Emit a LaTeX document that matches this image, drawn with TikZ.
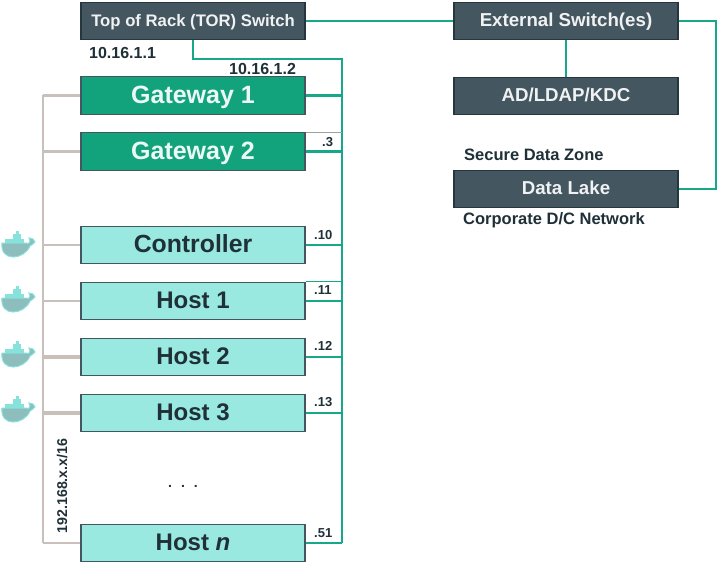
\documentclass[tikz,border=0pt]{standalone}
\usepackage{fontspec}
\setmainfont{Liberation Sans}
\definecolor{darkbox}{HTML}{44565F}
\definecolor{gatebox}{HTML}{12A27C}
\definecolor{hostbox}{HTML}{9AE9E1}
\definecolor{inktext}{HTML}{1F3038}
\definecolor{tealline}{HTML}{17A789}
\definecolor{grayline}{HTML}{C9C0BC}
\definecolor{whalehull}{HTML}{8DBDBD}
\definecolor{whaletop}{HTML}{86E2DA}
\tikzset{
  x=1pt,y=-1pt,
  basebox/.style={draw=#1,line width=1.3pt,minimum width=224pt,minimum height=37.5pt,inner sep=0pt,anchor=center},
  darknode/.style={basebox=inktext!85!darkbox,fill=darkbox,text=white!92!darkbox,text height=13.4pt,text depth=2pt,font=\bfseries\fontsize{18.7}{20}\selectfont},
  gatenode/.style={basebox=darkbox,fill=gatebox,text=white!92!gatebox,text height=17.9pt,text depth=2pt,font=\bfseries\fontsize{25}{27}\selectfont},
  hostnode/.style={basebox=darkbox,fill=hostbox,text=inktext,text height=17.2pt,text depth=3pt,font=\bfseries\fontsize{24}{26}\selectfont},
  tealconn/.style={draw=tealline,line width=2.2pt},
  grayconn/.style={draw=grayline,line width=2.4pt},
  graythick/.style={draw=grayline,line width=3.6pt},
  iplabel/.style={text=inktext,inner sep=0pt,font=\bfseries\fontsize{16}{18}\selectfont},
  notelabel/.style={text=inktext,inner sep=0pt,font=\bfseries\fontsize{16.5}{18}\selectfont},
  dotlabel/.style={text=inktext,inner sep=0pt,font=\bfseries\fontsize{13}{15}\selectfont},
  whale/.pic={
    \fill[whaletop] (5,-6) rectangle (24,-1);
    \fill[whaletop] (13,-11) rectangle (21,-6);
    \fill[whaletop] (16,-14) rectangle (19,-11);
    \fill[whalehull,draw=whaletop,line width=1pt] (2,-2) -- (26,-2) .. controls (28,-1) and (29,-1) .. (30,-4)
      -- (29,-7) -- (33,-6) -- (35,-3) .. controls (33,-1) and (32,0) .. (30,1)
      .. controls (27,8) and (20,12) .. (13,12) .. controls (6,12) and (1,7) .. (2,-2) -- cycle;
  }
}
\begin{document}
\begin{tikzpicture}
\useasboundingbox (0,0) rectangle (719,570);
\fill[white] (0,0) rectangle (719,570);

\coordinate (rtop) at (342,59);
\coordinate (rbot) at (342,543);
\coordinate (ltop) at (43,95);
\coordinate (lbot) at (43,543);
\coordinate (rfar) at (716,21);

\node[darknode,text height=12pt,font=\bfseries\fontsize{16.7}{18}\selectfont] (tor) at (193,21) {Top of Rack (TOR) Switch};
\node[darknode] (ext) at (566,21) {External Switch(es)};
\node[darknode] (ad) at (566,96) {AD/LDAP/KDC};
\node[darknode] (lake) at (566,189) {Data Lake};
\node[gatenode] (gw1) at (193,95.5) {Gateway 1};
\node[gatenode] (gw2) at (193,151.5) {Gateway 2};
\node[hostnode,text height=17.8pt,text depth=2pt,font=\bfseries\fontsize{24.8}{26}\selectfont] (ctl) at (193,245) {Controller};
\node[hostnode] (h1) at (193,301) {Host 1};
\node[hostnode] (h2) at (193,357) {Host 2};
\node[hostnode] (h3) at (193,413) {Host 3};
\node[hostnode,text depth=2pt] (hn) at (193,543) {Host \textit{n}};

\draw[tealconn] (tor.east) -- (ext.west);
\draw[tealconn] (ext.south) -- (ad.north);
\draw[tealconn] (ext.east) -| (rfar) |- (lake.east);
\draw[tealconn] (tor.south) |- (rtop) -- (rbot);
\foreach \n in {gw1,gw2,ctl,h1,h2,h3,hn}{
  \draw[tealconn] (\n.east) -- (\n.east -| rtop);
}
\draw[draw=grayline!70!darkbox,line width=.8pt] (gw2.north east) -- (gw2.north east -| rtop);
\draw[draw=tealline,line width=.8pt] (h1.north east) -- (h1.north east -| rtop);

\draw[grayconn] (ltop) -- (lbot);
\draw[graythick] (gw1.west) -- (gw1.west -| ltop);
\draw[graythick] (gw2.west) -- (gw2.west -| ltop);
\draw[grayconn] (ctl.west) -- (ctl.west -| ltop);
\draw[grayconn] (h1.west) -- (h1.west -| ltop);
\draw[graythick] (h2.west) -- (h2.west -| ltop);
\draw[graythick] (h3.west) -- (h3.west -| ltop);
\draw[grayconn] (hn.west) -- (hn.west -| ltop);

\node[iplabel,anchor=west] (ipa) at (89,53) {10.16.1.1};
\node[iplabel,anchor=west] (ipb) at (229,69) {10.16.1.2};
\node[notelabel,anchor=west] (szone) at (464,155) {Secure Data Zone};
\node[notelabel,anchor=west] (cnet) at (463,220.5) {Corporate D/C Network};
\node[dotlabel,anchor=west] (d3) at (322,142) {.3};
\node[dotlabel,anchor=west] (d10) at (314,235) {.10};
\node[dotlabel,anchor=west] (d11) at (314,290) {.11};
\node[dotlabel,anchor=west] (d12) at (314,346) {.12};
\node[dotlabel,anchor=west] (d13) at (314,402) {.13};
\node[dotlabel,anchor=west] (d51) at (314,533) {.51};
\node[dotlabel,rotate=90,font=\bfseries\fontsize{14.2}{16}\selectfont] (subnet) at (62,486) {192.168.x.x/16};
\node[dotlabel,font=\bfseries\fontsize{14}{16}\selectfont] (dots) at (183,486) {.\hspace{9pt}.\hspace{9pt}.};

\pic at (0,245) {whale};
\pic at (0,300) {whale};
\pic at (0,355) {whale};
\pic at (0,410) {whale};
\end{tikzpicture}
\end{document}
